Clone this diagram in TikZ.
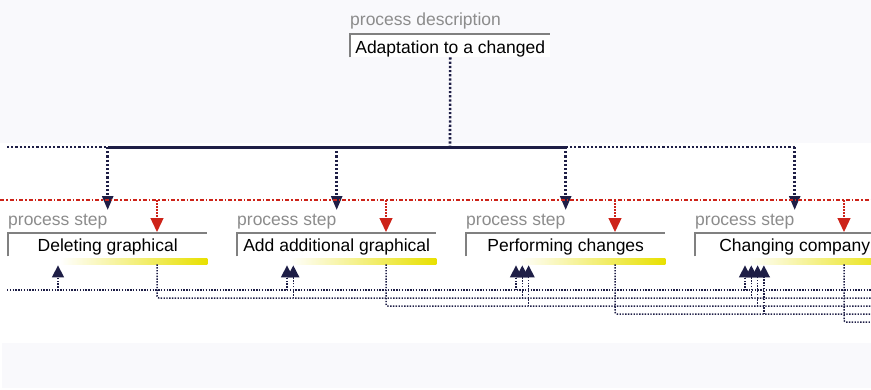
\documentclass[tikz,border=0pt]{standalone}
\usepackage{fontspec}
\setmainfont{Liberation Sans}
\definecolor{flownavy}{RGB}{30,30,70}
\definecolor{flowred}{RGB}{205,35,25}
\definecolor{labelgray}{RGB}{140,140,140}
\definecolor{framegray}{RGB}{128,128,128}
\definecolor{bandgray}{RGB}{249,249,252}
\definecolor{baryellow}{RGB}{232,224,0}
\usepackage{tikz}
\usetikzlibrary{arrows.meta, positioning, calc}

\tikzset{
  pxfont/.style={font=\fontsize{17.5}{20}\selectfont},
  steplabel/.style={pxfont, labelgray, anchor=base west, inner sep=0pt},
  stepbox/.style={pxfont, anchor=north west, minimum width=199pt, inner xsep=0pt,
    inner ysep=0pt, text height=18pt, text depth=5pt},
  navydots/.style={flownavy, line width=2.6pt, dash pattern=on 2.2pt off 2pt},
  thindots/.style={flownavy, line width=1.5pt, dash pattern=on 1.4pt off 1.4pt},
  redline/.style={flowred, line width=1.3pt, dash pattern=on 4pt off 2pt on 1.5pt off 2pt},
  reddots/.style={flowred, line width=1.3pt, dash pattern=on 1.5pt off 1.5pt},
}

\begin{document}
\begin{tikzpicture}[x=1pt, y=-1pt]
  \clip (0,0) rectangle (871,389);
  \fill[bandgray] (0,0) rectangle (871,143);
  \fill[bandgray] (2,343) rectangle (871,388);

  % process description
  \node[steplabel] (desclab) at (350,25) {process description};
  \node[stepbox, minimum width=200pt, text height=19pt, text depth=4pt, fill=white]
    (desc) at (350,34) {Adaptation to a changed};
  \draw[framegray, line width=1.3pt] (desc.south west) -- (desc.north west) -- (desc.north east);

  % process steps
  \foreach \i/\x/\title in {1/8/Deleting graphical, 2/237/Add additional graphical,
                            3/466/Performing changes, 4/695/Changing company}{
    \node[steplabel] (lab\i) at (\x,225) {process step};
    \node[stepbox] (step\i) at (\x,233) {\title};
    \draw[framegray, line width=1.3pt] (step\i.south west) -- (step\i.north west) -- (step\i.north east);
    \shade[left color=white, right color=baryellow]
      ($(step\i.south west)+(52,2)$) rectangle ($(step\i.south east)+(0,8)$);
  }

  % tree from the description
  \coordinate (bus) at (450,147);
  \coordinate (busL) at (7,147);
  \draw[navydots] (desc.south) -- (bus);
  \draw[navydots] (busL) -- (step1.north |- bus);
  \draw[flownavy, line width=3pt] (step1.north |- bus) -- (step3.north |- bus);
  \draw[navydots] (step3.north |- bus) -- (step4.north |- bus);
  \foreach \i in {1,...,4}
    \draw[navydots, -{Triangle[width=11pt, length=14pt]}]
      (step\i.north |- bus) -- ($(step\i.north)+(0,-23)$);

  % red line and arrows
  \coordinate (redL) at (0,200);
  \coordinate (redR) at (871,200);
  \draw[redline] (redL) -- (redR);
  \foreach \i in {1,...,4}
    \draw[reddots, -{Triangle[width=13pt, length=14pt]}]
      ($(step\i.north west)+(149,-33)$) -- ($(step\i.north west)+(149,-1)$);

  % inputs and outputs
  \coordinate (inA) at (7,290);
  \coordinate (outA) at (871,290);
  \draw[thindots] (inA) -- (outA);
  \foreach \i in {1,...,4}{
    \coordinate (out\i) at (871,290+8*\i);
    \draw[thindots, rounded corners=2pt] ($(step\i.south west)+(149,8)$) |- (out\i);
    \pgfmathtruncatemacro\n{\i-1}
    \foreach \j in {0,...,\n}
      \draw[thindots, -{Triangle[width=12pt, length=12pt]}]
        ($(step\i.south west)+(50+6.3*\j,34+8*\j)$) -- ($(step\i.south west)+(50+6.3*\j,9)$);
  }
\end{tikzpicture}
\end{document}
